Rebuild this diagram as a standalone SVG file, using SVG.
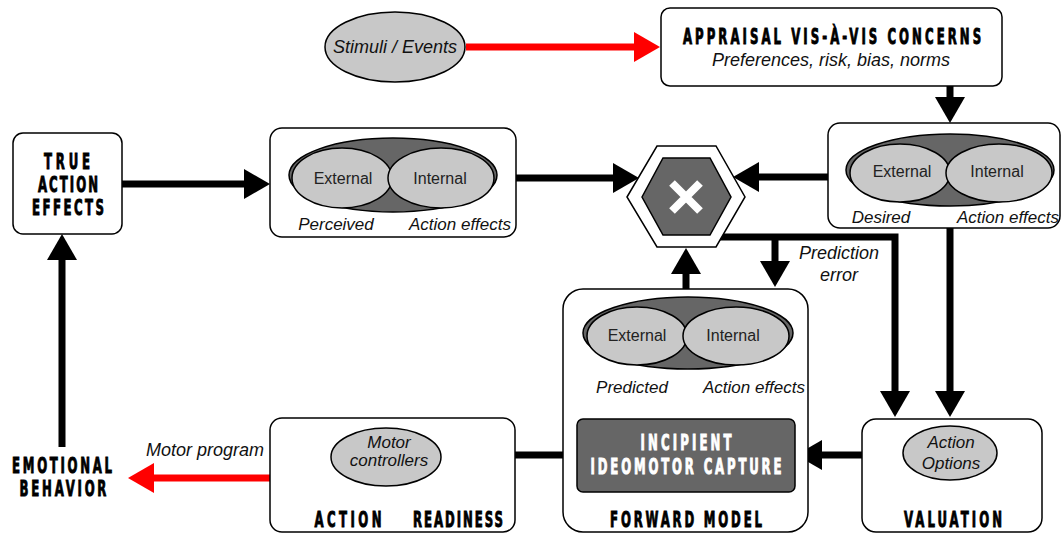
<svg xmlns="http://www.w3.org/2000/svg" width="1062" height="534" viewBox="0 0 1062 534">
<defs>
<style>
.box{fill:#fff;stroke:#000;stroke-width:1.5}
.oval{fill:#c8c8c8;stroke:#000;stroke-width:1.5}
.dark{fill:#666;stroke:#000;stroke-width:1.5}
.lbl{font-family:'Liberation Sans',Arial,sans-serif;font-size:16px;fill:#222;text-anchor:middle}
.it{font-family:'Liberation Sans',Arial,sans-serif;font-size:17px;font-style:italic;fill:#111;text-anchor:middle}
.big{font-size:18px}
.ttl{font-family:'DejaVu Sans Condensed','Liberation Sans',sans-serif;font-weight:bold;font-size:21px;fill:#000;stroke:#000;stroke-width:0.9;text-anchor:middle}
.wt{fill:#fff;stroke:#fff}
.con{fill:none;stroke:#000;stroke-width:7}
.red{fill:none;stroke:#f00;stroke-width:7}
</style>
<marker id="ah" viewBox="0 0 26 30" refX="2" refY="15" markerWidth="26" markerHeight="30" markerUnits="userSpaceOnUse" orient="auto"><path d="M0,0 L26,15 L0,30 z" fill="#000"/></marker>
<marker id="ahr" viewBox="0 0 26 30" refX="2" refY="15" markerWidth="26" markerHeight="30" markerUnits="userSpaceOnUse" orient="auto"><path d="M0,0 L26,15 L0,30 z" fill="#f00"/></marker>
</defs>

<g id="connectors">
<path class="red" d="M466,47 H636" marker-end="url(#ahr)"/>
<path class="con" d="M950,86 V99" marker-end="url(#ah)"/>
<path class="con" d="M122,184 H246" marker-end="url(#ah)"/>
<path class="con" d="M497,178 H615" marker-end="url(#ah)"/>
<path class="con" d="M828,177 H757" marker-end="url(#ah)"/>
<path class="con" d="M686,297 V272" marker-end="url(#ah)"/>
<path class="con" d="M720,237 H895 V393" marker-end="url(#ah)"/>
<path class="con" d="M775,237 V263" marker-end="url(#ah)"/>
<path class="con" d="M950,228 V393" marker-end="url(#ah)"/>
<path class="con" d="M903,455 H820" marker-end="url(#ah)"/>
<path class="con" d="M577,455 H465" marker-end="url(#ah)"/>
<path class="con" d="M686,419 V396" marker-end="url(#ah)"/>
<path class="red" d="M270,478 H152" marker-end="url(#ahr)"/>
<path class="con" d="M62,447 V258" marker-end="url(#ah)"/>
<text class="it big" x="839" y="259">Prediction</text>
<text class="it big" x="839" y="281">error</text>
<text class="it big" x="205" y="456">Motor program</text>
</g>

<g id="stimuli">
<ellipse class="oval" cx="395" cy="47" rx="70" ry="35"/>
<text class="it big" x="395" y="53">Stimuli / Events</text>
</g>

<g id="appraisal">
<rect class="box" x="661" y="8" width="341" height="78" rx="9"/>
<text class="ttl" transform="translate(832,44) scale(0.62,1)" x="0" y="0" textLength="481" lengthAdjust="spacing">APPRAISAL VIS-À-VIS CONCERNS</text>
<text class="it big" x="831" y="66">Preferences, risk, bias, norms</text>
</g>

<g id="true-action-effects">
<rect class="box" x="13" y="133" width="109" height="101" rx="10"/>
<text class="ttl" transform="translate(67,169) scale(0.62,1)" x="0" y="0" textLength="74" lengthAdjust="spacing">TRUE</text>
<text class="ttl" transform="translate(68,192) scale(0.62,1)" x="0" y="0" textLength="97" lengthAdjust="spacing">ACTION</text>
<text class="ttl" transform="translate(68,215) scale(0.62,1)" x="0" y="0" textLength="116" lengthAdjust="spacing">EFFECTS</text>
</g>

<g id="perceived">
<rect class="box" x="270" y="128" width="246" height="109" rx="12"/>
<ellipse class="dark" cx="393" cy="175" rx="104" ry="37"/>
<ellipse class="oval" cx="342" cy="178" rx="50" ry="30"/>
<ellipse class="oval" cx="441" cy="178" rx="53" ry="30"/>
<text class="lbl" x="343" y="184">External</text>
<text class="lbl" x="440" y="184">Internal</text>
<text class="it" x="336" y="230">Perceived</text>
<text class="it" x="460" y="230">Action effects</text>
</g>

<g id="comparator">
<polygon points="627,197 657,146 716,146 745,197 716,247 657,247" fill="#fff" stroke="#000" stroke-width="1.5"/>
<polygon points="642,197 663,158 710,158 731,197 710,235 663,235" class="dark"/>
<path d="M672,183 L700,211 M700,183 L672,211" stroke="#fff" stroke-width="8" fill="none"/>
</g>

<g id="desired">
<rect class="box" x="828" y="123" width="232" height="105" rx="12"/>
<ellipse class="dark" cx="950" cy="170" rx="104" ry="36"/>
<ellipse class="oval" cx="900" cy="173" rx="50" ry="29"/>
<ellipse class="oval" cx="999" cy="173" rx="53" ry="29"/>
<text class="lbl" x="902" y="177">External</text>
<text class="lbl" x="997" y="177">Internal</text>
<text class="it" x="881" y="223">Desired</text>
<text class="it" x="1008" y="223">Action effects</text>
</g>

<g id="forward-model">
<rect class="box" x="563" y="289" width="245" height="243" rx="20"/>
<ellipse class="dark" cx="688" cy="333" rx="105" ry="36"/>
<ellipse class="oval" cx="637" cy="336" rx="50" ry="29"/>
<ellipse class="oval" cx="736" cy="336" rx="53" ry="29"/>
<text class="lbl" x="637" y="341">External</text>
<text class="lbl" x="733" y="341">Internal</text>
<text class="it" x="632" y="393">Predicted</text>
<text class="it" x="754" y="393">Action effects</text>
<text class="ttl" transform="translate(686,527) scale(0.62,1)" x="0" y="0" textLength="245" lengthAdjust="spacing">FORWARD MODEL</text>
</g>

<g id="ideomotor">
<rect x="577" y="419" width="218" height="73" rx="6" class="dark"/>
<text class="ttl wt" transform="translate(686,450) scale(0.62,1)" x="0" y="0" textLength="147" lengthAdjust="spacing">INCIPIENT</text>
<text class="ttl wt" transform="translate(686,474) scale(0.62,1)" x="0" y="0" textLength="308" lengthAdjust="spacing">IDEOMOTOR CAPTURE</text>
</g>

<g id="valuation">
<rect class="box" x="862" y="419" width="180" height="113" rx="14"/>
<ellipse class="oval" cx="950" cy="453" rx="47" ry="27"/>
<text class="it" x="951" y="448">Action</text>
<text class="it" x="951" y="469">Options</text>
<text class="ttl" transform="translate(953,527) scale(0.62,1)" x="0" y="0" textLength="158" lengthAdjust="spacing">VALUATION</text>
</g>

<g id="action-readiness">
<rect class="box" x="270" y="418" width="245" height="114" rx="12"/>
<ellipse class="oval" cx="386" cy="457" rx="55" ry="29"/>
<text class="it" x="389" y="448">Motor</text>
<text class="it" x="389" y="466">controllers</text>
<text class="ttl" transform="translate(348,527) scale(0.62,1)" x="0" y="0" textLength="108" lengthAdjust="spacing">ACTION</text>
<text class="ttl" transform="translate(458,527) scale(0.62,1)" x="0" y="0" textLength="145" lengthAdjust="spacing">READINESS</text>
</g>

<g id="emotional-behavior">
<text class="ttl" transform="translate(62,473) scale(0.62,1)" x="0" y="0" textLength="161" lengthAdjust="spacing">EMOTIONAL</text>
<text class="ttl" transform="translate(63,496) scale(0.62,1)" x="0" y="0" textLength="140" lengthAdjust="spacing">BEHAVIOR</text>
</g>
</svg>
